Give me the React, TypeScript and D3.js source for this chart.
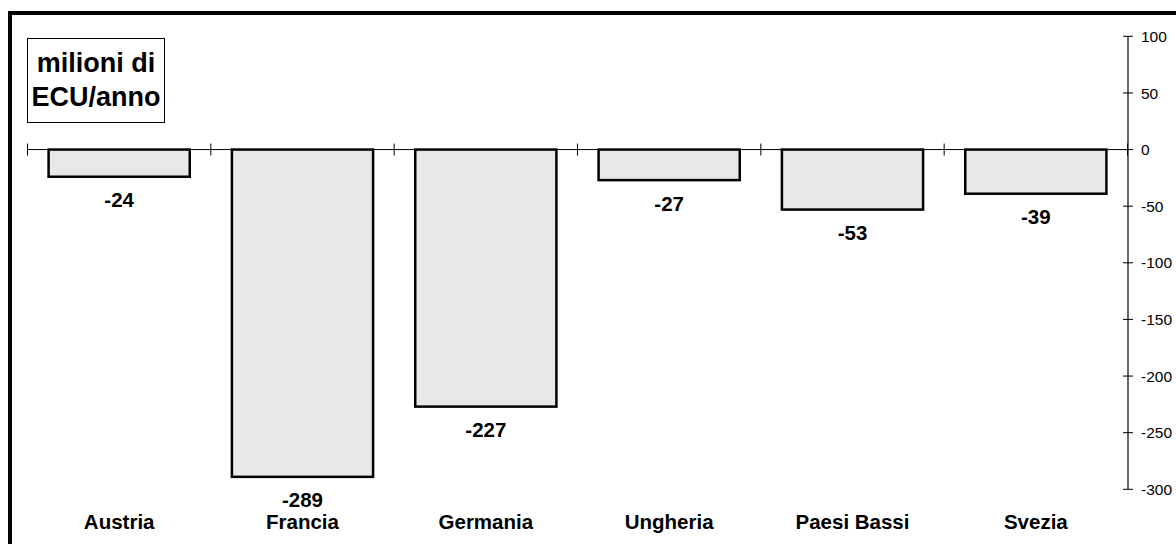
import React from "react";
import * as d3 from "d3";

const categories = ["Austria", "Francia", "Germania", "Ungheria", "Paesi Bassi", "Svezia"];
const values = [-24, -289, -227, -27, -53, -39];
const yTicks = [100, 50, 0, -50, -100, -150, -200, -250, -300];
const unitLines = ["milioni di", "ECU/anno"];

const W = 1176;
const H = 544;
const FONT = "Liberation Sans, Arial, Helvetica, sans-serif";

export default function App() {
  const x = d3
    .scaleBand<string>()
    .domain(categories)
    .range([27.5, 1127.5])
    .paddingInner(0.23)
    .paddingOuter(0.115);
  const y = d3.scaleLinear().domain([-300, 100]).range([489.3, 36.3]);
  const axisX = 1128;
  const y0 = y(0);
  const step = x.step();

  return (
    <svg
      width={W}
      height={H}
      style={{ position: "absolute", left: 0, top: 0, background: "#fff" }}
      fontFamily={FONT}
    >
      {/* frame, clipped on the right and bottom */}
      <path d={`M10,${H + 5} L10,13 L${W + 5},13`} fill="none" stroke="#000" strokeWidth={4} />

      {/* unit box */}
      <rect x={27.5} y={38.5} width={137} height={84} fill="#fff" stroke="#000" strokeWidth={1} />
      {unitLines.map((t, i) => (
        <text
          key={t}
          x={96}
          y={72 + i * 34}
          textAnchor="middle"
          fontSize={27}
          fontWeight="bold"
          fill="#000"
        >
          {t}
        </text>
      ))}

      {/* bars */}
      {categories.map((c, i) => {
        const v = values[i];
        const bx = x(c)!;
        const top = Math.min(y(v), y0);
        const h = Math.abs(y(v) - y0);
        return (
          <g key={c}>
            <rect
              x={bx}
              y={top}
              width={x.bandwidth()}
              height={h}
              fill="#e8e8e8"
              stroke="#000"
              strokeWidth={2.5}
            />
            <text
              x={bx + x.bandwidth() / 2}
              y={y(v) + 30.5}
              textAnchor="middle"
              fontSize={20.5}
              fontWeight="bold"
              fill="#000"
            >
              {v}
            </text>
            <text
              x={bx + x.bandwidth() / 2}
              y={528.5}
              textAnchor="middle"
              fontSize={20.5}
              fontWeight="bold"
              fill="#000"
            >
              {c}
            </text>
          </g>
        );
      })}

      {/* zero line with category ticks */}
      <line x1={27.5} x2={axisX} y1={y0} y2={y0} stroke="#000" strokeWidth={1} />
      {d3.range(categories.length + 1).map((k) => {
        const tx = 27.5 + k * step;
        return (
          <line key={k} x1={tx} x2={tx} y1={y0 - 6} y2={y0 + 6} stroke="#000" strokeWidth={1} />
        );
      })}

      {/* right value axis */}
      <line x1={axisX} x2={axisX} y1={y(100)} y2={y(-300)} stroke="#000" strokeWidth={1.2} />
      {yTicks.map((t) => (
        <g key={t}>
          <line x1={axisX - 5} x2={axisX + 5} y1={y(t)} y2={y(t)} stroke="#000" strokeWidth={1} />
          <text x={1141} y={y(t)} dy="0.36em" fontSize={15.5} fill="#000">
            {t}
          </text>
        </g>
      ))}
    </svg>
  );
}
